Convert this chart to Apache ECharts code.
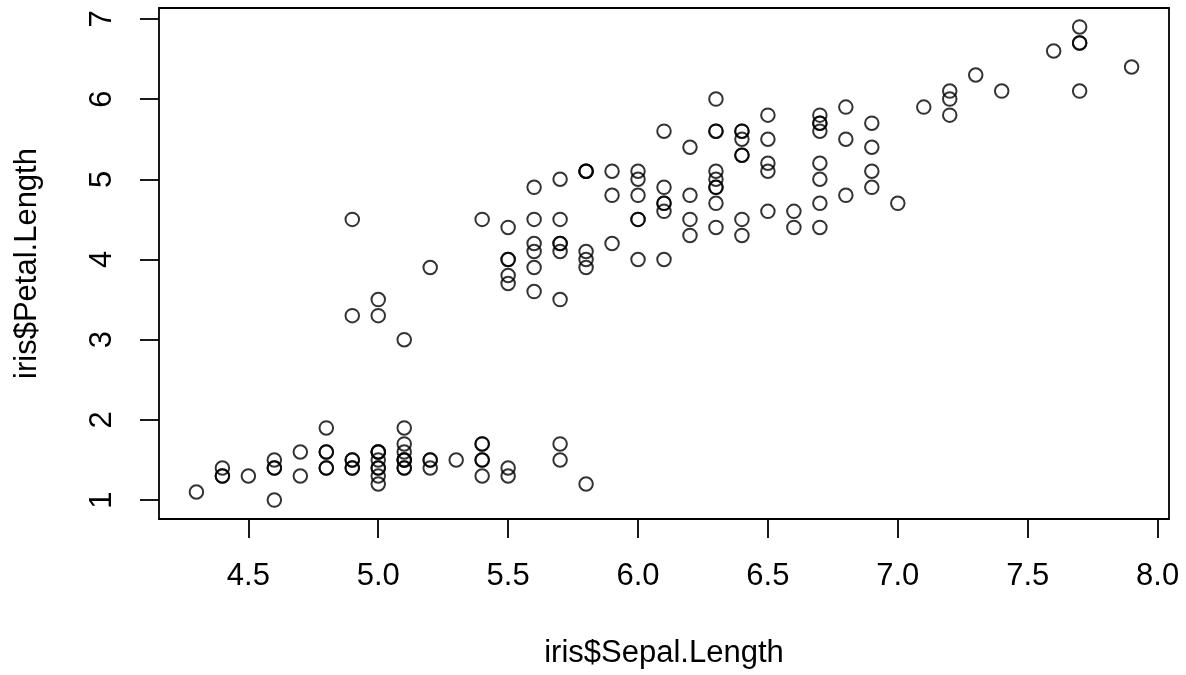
<!DOCTYPE html>
<html>
<head>
<meta charset="utf-8">
<script src="https://cdn.jsdelivr.net/npm/echarts@6/dist/echarts.min.js"></script>
<style>html,body{margin:0;padding:0;background:#fff;}#c{width:1186px;height:675px;}</style>
</head>
<body>
<div id="c"></div>
<script>
// iris$Sepal.Length (x) and iris$Petal.Length (y), 150 observations
const sepalLength = [
5.1,4.9,4.7,4.6,5.0,5.4,4.6,5.0,4.4,4.9,5.4,4.8,4.8,4.3,5.8,5.7,5.4,5.1,5.7,5.1,5.4,5.1,4.6,5.1,4.8,5.0,5.0,5.2,5.2,4.7,4.8,5.4,5.2,5.5,4.9,5.0,5.5,4.9,4.4,5.1,5.0,4.5,4.4,5.0,5.1,4.8,5.1,4.6,5.3,5.0,
7.0,6.4,6.9,5.5,6.5,5.7,6.3,4.9,6.6,5.2,5.0,5.9,6.0,6.1,5.6,6.7,5.6,5.8,6.2,5.6,5.9,6.1,6.3,6.1,6.4,6.6,6.8,6.7,6.0,5.7,5.5,5.5,5.8,6.0,5.4,6.0,6.7,6.3,5.6,5.5,5.5,6.1,5.8,5.0,5.6,5.7,5.7,6.2,5.1,5.7,
6.3,5.8,7.1,6.3,6.5,7.6,4.9,7.3,6.7,7.2,6.5,6.4,6.8,5.7,5.8,6.4,6.5,7.7,7.7,6.0,6.9,5.6,7.7,6.3,6.7,7.2,6.2,6.1,6.4,7.2,7.4,7.9,6.4,6.3,6.1,7.7,6.3,6.4,6.0,6.9,6.7,6.9,5.8,6.8,6.7,6.7,6.3,6.5,6.2,5.9
];
const petalLength = [
1.4,1.4,1.3,1.5,1.4,1.7,1.4,1.5,1.4,1.5,1.5,1.6,1.4,1.1,1.2,1.5,1.3,1.4,1.7,1.5,1.7,1.5,1.0,1.7,1.9,1.6,1.6,1.5,1.4,1.6,1.6,1.5,1.5,1.4,1.5,1.2,1.3,1.4,1.3,1.5,1.3,1.3,1.3,1.6,1.9,1.4,1.6,1.4,1.5,1.4,
4.7,4.5,4.9,4.0,4.6,4.5,4.7,3.3,4.6,3.9,3.5,4.2,4.0,4.7,3.6,4.4,4.5,4.1,4.5,3.9,4.8,4.0,4.9,4.7,4.3,4.4,4.8,5.0,4.5,3.5,3.8,3.7,3.9,5.1,4.5,4.5,4.7,4.4,4.1,4.0,4.4,4.6,4.0,3.3,4.2,4.2,4.2,4.3,3.0,4.1,
6.0,5.1,5.9,5.6,5.8,6.6,4.5,6.3,5.8,6.1,5.1,5.3,5.5,5.0,5.1,5.3,5.5,6.7,6.9,5.0,5.7,4.9,6.7,4.9,5.7,6.0,4.8,4.9,5.6,5.8,6.1,6.4,5.6,5.1,5.6,6.1,5.6,5.5,4.8,5.4,5.6,5.1,5.1,5.9,5.7,5.2,5.0,5.2,5.4,5.1
];
const xTicks = [4.5,5.0,5.5,6.0,6.5,7.0,7.5,8.0];
const yTicks = [1,2,3,4,5,6,7];
const xTitle = 'iris$Sepal.Length';
const yTitle = 'iris$Petal.Length';

const points = sepalLength.map((v, i) => [v, petalLength[i]]);
const FONT = '"Liberation Sans", Arial, Helvetica, sans-serif';

const chart = echarts.init(document.getElementById('c'), null, {renderer: 'canvas'});
chart.setOption({
  animation: false,
  backgroundColor: '#ffffff',
  grid: {
    left: 159, right: 17, top: 8, bottom: 156,
    show: true, borderColor: '#000', borderWidth: 1.8, backgroundColor: 'transparent'
  },
  xAxis: {
    type: 'value',
    min: 4.156, max: 8.044,
    name: xTitle,
    nameLocation: 'middle',
    nameGap: 119,
    nameTextStyle: {color: '#000', fontSize: 31, fontFamily: FONT},
    axisLine: {show: false},
    axisTick: {show: true, inside: false, length: 19, customValues: xTicks, lineStyle: {color: '#000', width: 1.8}},
    axisLabel: {show: true, customValues: xTicks, margin: 42, color: '#000', fontSize: 31, fontFamily: FONT,
      formatter: v => Number(v).toFixed(1)},
    splitLine: {show: false}
  },
  yAxis: {
    type: 'value',
    min: 0.764, max: 7.136,
    name: yTitle,
    nameLocation: 'middle',
    nameRotate: 90,
    nameGap: 116,
    nameTextStyle: {color: '#000', fontSize: 31, fontFamily: FONT},
    axisLine: {show: false},
    axisTick: {show: true, inside: false, length: 19, customValues: yTicks, lineStyle: {color: '#000', width: 1.8}},
    axisLabel: {show: true, customValues: yTicks, margin: 41, rotate: 90, color: '#000', fontSize: 31, fontFamily: FONT,
      formatter: v => String(Math.round(v))},
    splitLine: {show: false}
  },
  series: [{
    type: 'scatter',
    data: points,
    symbol: 'circle',
    symbolSize: 13.5,
    itemStyle: {color: 'rgba(0,0,0,0)', borderColor: '#000', borderWidth: 2},
    emphasis: {disabled: true},
    silent: true
  }]
});
</script>
</body>
</html>
